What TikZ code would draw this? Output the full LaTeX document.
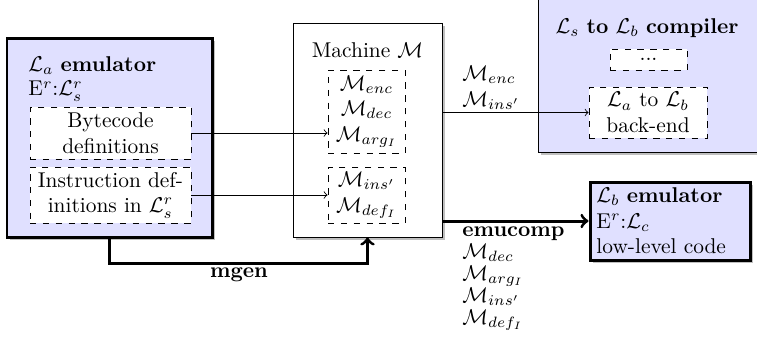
\documentclass[tikz,border=0pt]{standalone}
\usetikzlibrary{shadows}
\begin{document}
\begin{tikzpicture}[x=0.4673pt,y=-0.4673pt,
  shadowed/.style={drop shadow={shadow xshift=1.6pt,shadow yshift=-1.6pt,fill=black!25,opacity=1}},
  bigbox/.style={draw, fill=blue!12, line width=1.4pt, shadowed, inner sep=0},
  litebox/.style={draw, fill=blue!12, line width=0.4pt, shadowed, inner sep=0},
  plainbox/.style={draw, fill=white, line width=0.4pt, shadowed, inner sep=0},
  dbox/.style={draw, dashed, fill=white, inner sep=0, align=center, line width=0.4pt},
  thinarrow/.style={->, line width=0.4pt},
  thickarrow/.style={->, line width=1.4pt},
  sz/.style n args={2}{minimum width=#1*0.4673pt, minimum height=#2*0.4673pt},
  lbl/.style={inner sep=0, align=left}
]
\useasboundingbox (0,0) rectangle (757,347);
\clip (0,0) rectangle (757,347);

% L_a emulator
\node[bigbox, sz={205}{199}] (emu) at (109.5,137.5) {};
\node[lbl, anchor=north west] (emut) at (28,56) {$\mathcal{L}_a$ \textbf{emulator}\\[-0.5pt]E$^r$:$\mathcal{L}_s^r$};
\node[dbox, sz={161}{52}] (bytecode) at (110.5,133) {Bytecode\\definitions};
\node[dbox, sz={161}{56}] (instr) at (110.5,195) {Instruction def-\\initions in $\mathcal{L}_s^r$};

% Machine
\node[plainbox, sz={149}{214}] (machine) at (367.5,130) {};
\node (macht) at (367.5,50) {Machine $\mathcal{M}$};
\node[dbox, sz={77}{83}] (mbox1) at (366.5,111.5) {$\mathcal{M}_{enc}$\\$\mathcal{M}_{dec}$\\$\mathcal{M}_{arg_I}$};
\node[dbox, sz={77}{56}] (mbox2) at (366.5,195) {$\mathcal{M}_{ins'}$\\$\mathcal{M}_{def_I}$};

% compiler
\node[litebox, sz={226}{167}] (comp) at (651,68.5) {};
\node (compt) at (647,28) {$\mathcal{L}_s$ \textbf{to} $\mathcal{L}_b$ \textbf{compiler}};
\node[dbox, sz={77}{21}] (dots) at (648.5,59.5) {...};
\node[dbox, sz={118}{51}] (backend) at (648,112.5) {$\mathcal{L}_a$ to $\mathcal{L}_b$\\back-end};

% L_b emulator
\node[bigbox, sz={160}{78}] (lbemu) at (670,221) {};
\node[lbl, anchor=west] (lbt) at (596,221) {$\mathcal{L}_b$ \textbf{emulator}\\E$^r$:$\mathcal{L}_c$\\low-level code};

% connectors
\draw[thinarrow] (bytecode.east) -- (bytecode.east -| mbox1.west);
\draw[thinarrow] (instr.east) -- (mbox2.west);
\draw[thinarrow] (backend.west -| machine.east) -- (backend.west);
\node[lbl, anchor=west] (enclbl) at (462,87.5) {$\mathcal{M}_{enc}$\\$\mathcal{M}_{ins'}$};

\draw[thickarrow] (emu.south) -- ++(0,25) -| (machine.south);
\node (mgen) at (239,275) {\textbf{mgen}};

\draw[thickarrow] (lbemu.west -| machine.east) -- (lbemu.west);
\node[lbl, anchor=north west] (emuc) at (462,226) {\textbf{emucomp}\\[-1.7pt]$\mathcal{M}_{dec}$\\[-1.7pt]$\mathcal{M}_{arg_I}$\\[-1.7pt]$\mathcal{M}_{ins'}$\\[-1.7pt]$\mathcal{M}_{def_I}$};
\end{tikzpicture}
\end{document}
